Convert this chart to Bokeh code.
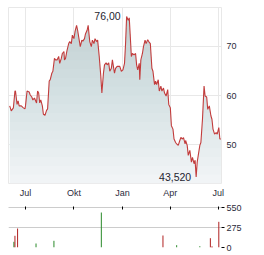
import numpy as np
import pandas as pd
from bokeh.plotting import figure
from bokeh.layouts import column
from bokeh.models import FixedTicker, Label, Range1d
from bokeh.embed import file_html
from bokeh.resources import INLINE

# ---------------- data ----------------
price_dates = [
    "2023-06-01", "2023-06-04", "2023-06-08", "2023-06-11", "2023-06-12", "2023-06-15",
    "2023-06-17", "2023-06-19", "2023-06-23", "2023-06-27", "2023-06-30",
    "2023-07-01", "2023-07-04", "2023-07-08", "2023-07-10", "2023-07-13", "2023-07-15",
    "2023-07-18", "2023-07-22", "2023-07-24", "2023-07-26", "2023-07-28", "2023-07-30",
    "2023-08-02", "2023-08-04", "2023-08-07", "2023-08-10", "2023-08-12", "2023-08-15",
    "2023-08-17", "2023-08-20", "2023-08-22", "2023-08-25", "2023-08-27", "2023-08-30",
    "2023-09-02", "2023-09-04", "2023-09-07", "2023-09-09", "2023-09-12", "2023-09-13",
    "2023-09-15", "2023-09-18", "2023-09-21", "2023-09-23", "2023-09-26", "2023-09-28",
    "2023-10-01", "2023-10-03", "2023-10-06", "2023-10-08", "2023-10-11", "2023-10-13",
    "2023-10-16", "2023-10-18", "2023-10-21", "2023-10-23", "2023-10-26", "2023-10-28", "2023-10-31",
    "2023-11-03", "2023-11-05", "2023-11-08", "2023-11-10", "2023-11-13", "2023-11-15",
    "2023-11-18", "2023-11-21", "2023-11-23", "2023-11-26", "2023-11-28",
    "2023-12-01", "2023-12-03", "2023-12-06", "2023-12-08", "2023-12-11", "2023-12-13",
    "2023-12-17", "2023-12-19", "2023-12-22", "2023-12-27", "2023-12-30",
    "2024-01-02", "2024-01-05", "2024-01-07", "2024-01-09", "2024-01-12", "2024-01-14",
    "2024-01-16", "2024-01-18", "2024-01-20", "2024-01-23", "2024-01-26", "2024-01-28", "2024-01-30",
    "2024-02-02", "2024-02-03", "2024-02-05", "2024-02-08", "2024-02-10", "2024-02-13",
    "2024-02-15", "2024-02-18", "2024-02-20", "2024-02-23", "2024-02-26", "2024-02-28",
    "2024-03-02", "2024-03-04", "2024-03-06", "2024-03-09", "2024-03-11", "2024-03-14",
    "2024-03-16", "2024-03-19", "2024-03-21", "2024-03-24", "2024-03-27", "2024-03-29",
    "2024-04-01", "2024-04-03", "2024-04-06", "2024-04-08", "2024-04-11", "2024-04-13",
    "2024-04-16", "2024-04-19", "2024-04-21", "2024-04-24", "2024-04-26", "2024-04-29", "2024-04-30",
    "2024-05-03", "2024-05-05", "2024-05-08", "2024-05-11", "2024-05-13", "2024-05-16",
    "2024-05-18", "2024-05-20", "2024-05-22", "2024-05-24", "2024-05-27", "2024-05-29",
    "2024-06-01", "2024-06-04", "2024-06-06", "2024-06-09", "2024-06-11", "2024-06-14",
    "2024-06-17", "2024-06-19", "2024-06-21", "2024-06-24", "2024-06-27", "2024-06-29",
    "2024-07-02", "2024-07-04", "2024-07-06",
]
price_values = [
    57.9, 56.9, 57.5, 60.9, 60.9, 58.2,
    58.9, 57.9, 57.9, 57.5, 57.3,
    57.9, 60.9, 60.7, 60.1, 59.7, 59.1,
    59.5, 58.5, 60.9, 60.5, 58.5, 59.1,
    57.9, 56.2, 56.0, 57.0, 57.3, 62.9,
    63.2, 64.5, 64.9, 67.5, 67.2, 67.2,
    67.9, 66.5, 67.5, 68.5, 68.9, 67.2,
    67.5, 69.2, 70.5, 70.9, 70.5, 72.2,
    71.5, 72.9, 74.2, 73.2, 71.2, 69.9,
    71.2, 71.0, 71.5, 72.5, 73.2, 74.2, 70.9,
    69.9, 71.2, 70.5, 71.5, 70.9, 71.2,
    67.9, 63.9, 60.5, 64.5, 66.2,
    66.6, 66.2, 66.6, 64.9, 65.5, 67.2,
    64.5, 65.5, 65.9, 65.9, 64.9,
    65.2, 66.5, 70.5, 76.0, 75.2, 75.7,
    71.9, 67.9, 68.5, 68.2, 68.5, 66.2, 65.2,
    66.5, 63.2, 67.2, 68.5, 69.9, 71.2,
    70.5, 71.3, 70.9, 70.5, 65.5, 64.9,
    62.2, 62.9, 62.2, 63.2, 60.9, 61.9,
    60.9, 61.5, 60.5, 59.9, 61.2, 58.2,
    57.5, 53.9, 53.2, 51.2, 50.5, 50.2,
    49.9, 50.9, 51.5, 51.2, 51.5, 50.2, 50.9,
    49.9, 47.9, 48.9, 46.5, 47.5, 46.2,
    46.9, 43.52, 46.5, 47.9, 49.9, 50.5,
    55.2, 61.9, 59.9, 59.7, 57.2, 57.9,
    55.9, 55.2, 53.2, 52.2, 52.5, 52.2,
    53.5, 51.2, 51.2,
]

vol_dates = ["2023-06-09", "2023-06-11", "2023-06-16", "2023-07-21", "2023-08-24", "2023-11-22",
             "2024-03-18", "2024-04-13", "2024-05-27", "2024-06-16", "2024-06-18", "2024-06-20",
             "2024-07-02"]
vol_values = [78, 161, 261, 55, 92, 481, 165, 32, 18, 128, 12, 12, 353]
vol_up = [True, False, False, True, True, True, False, True, True, False, False, False, False]

month_ticks = ["2023-07-01", "2023-10-01", "2024-01-01", "2024-04-01", "2024-07-01"]
month_labels = ["Jul", "Okt", "Jan", "Apr", "Jul"]
price_ticks = [50, 60, 70]
vol_ticks = [0, 275, 550]

x_start = "2023-05-29 18:00"
x_end = "2024-07-07 03:00"
y_min, y_max = 42.2, 77.8
vol_max = 550

# ---------------- helpers ----------------
def ms(s):
    return pd.Timestamp(s).value / 1e6

px = pd.to_datetime(price_dates)
py = np.array(price_values)
tick_ms = [ms(d) for d in month_ticks]

FONT = "Liberation Sans"
TXT = "#2b2b3b"
GRID = "#e8e8e8"

# ---------------- price chart ----------------
p = figure(x_axis_type="datetime", width=264, height=200,
           x_range=Range1d(ms(x_start), ms(x_end)), y_range=Range1d(y_min, y_max),
           y_axis_location="right", output_backend="svg", toolbar_location=None,
           min_border_left=8, min_border_right=43, min_border_top=7, min_border_bottom=15)
p.background_fill_color = "white"
p.border_fill_color = "white"
p.outline_line_color = GRID

# gradient-like fill under the line
p.varea(x=px, y1=y_min, y2=py, fill_color="#f1f4f6")
levels = np.linspace(y_min, y_max, 21)[1:]
for L in levels:
    p.varea(x=px, y1=np.minimum(py, L), y2=py, fill_color="#86a0b6", fill_alpha=0.022)
p.line(px, py, line_color="#c23c3c", line_width=1.1)

p.xaxis.ticker = FixedTicker(ticks=tick_ms)
p.xaxis.major_label_overrides = {t: l for t, l in zip(tick_ms, month_labels)}
p.xaxis.axis_line_color = None
p.xaxis.major_tick_line_color = None
p.xaxis.major_tick_in = 0
p.xaxis.major_tick_out = 0
p.xaxis.minor_tick_line_color = None
p.xaxis.minor_tick_out = 0
p.xaxis.major_label_standoff = 4
p.xaxis.major_label_text_font = FONT
p.xaxis.major_label_text_font_size = "9px"
p.xaxis.major_label_text_color = TXT

p.yaxis.ticker = FixedTicker(ticks=price_ticks)
p.yaxis.axis_line_color = None
p.yaxis.major_tick_line_color = None
p.yaxis.major_tick_in = 0
p.yaxis.major_tick_out = 0
p.yaxis.minor_tick_line_color = None
p.yaxis.minor_tick_out = 0
p.yaxis.major_label_standoff = 5
p.yaxis.major_label_text_font = FONT
p.yaxis.major_label_text_font_size = "9px"
p.yaxis.major_label_text_color = TXT

p.xgrid.ticker = FixedTicker(ticks=tick_ms)
p.xgrid.grid_line_color = GRID
p.ygrid.ticker = FixedTicker(ticks=price_ticks)
p.ygrid.grid_line_color = GRID

imax = int(np.argmax(py))
imin = int(np.argmin(py))
p.add_layout(Label(x=ms(price_dates[imax]), y=py[imax], x_offset=-6,
                   text=f"{py[imax]:.2f}".replace(".", ","), text_align="right",
                   text_baseline="middle", text_font=FONT, text_font_size="10.5px",
                   text_color="#1e1e30"))
p.add_layout(Label(x=ms(price_dates[imin]), y=py[imin], x_offset=-5,
                   text=f"{py[imin]:.3f}".replace(".", ","), text_align="right",
                   text_baseline="middle", text_font=FONT, text_font_size="10.5px",
                   text_color="#1e1e30"))

# ---------------- volume chart ----------------
v = figure(x_axis_type="datetime", width=264, height=55,
           x_range=p.x_range, y_range=Range1d(0, vol_max),
           y_axis_location="right", x_axis_location="above",
           output_backend="svg", toolbar_location=None,
           min_border_left=8, min_border_right=43, min_border_top=7, min_border_bottom=8)
v.outline_line_color = None
v.background_fill_color = "white"
v.border_fill_color = "white"

vx = pd.to_datetime(vol_dates)
vcol = ["#2a8a2a" if u else "#b02020" for u in vol_up]
v.segment(x0=vx, y0=0, x1=vx, y1=vol_values, line_color=vcol, line_width=1)

v.xaxis.ticker = FixedTicker(ticks=tick_ms)
v.xaxis.axis_line_color = "#cccccc"
v.xaxis.major_tick_line_color = "#000000"
v.xaxis.major_tick_in = 2
v.xaxis.major_tick_out = 1
v.xaxis.minor_tick_line_color = None
v.xaxis.minor_tick_out = 0
v.xaxis.major_label_text_font_size = "0px"
v.xaxis.major_label_text_color = None
v.xaxis.major_label_standoff = 0

v.yaxis.ticker = FixedTicker(ticks=vol_ticks)
v.yaxis.axis_line_color = None
v.yaxis.major_tick_line_color = "#000000"
v.yaxis.major_tick_in = 0
v.yaxis.major_tick_out = 3
v.yaxis.minor_tick_line_color = None
v.yaxis.minor_tick_out = 0
v.yaxis.major_label_standoff = 2
v.yaxis.major_label_text_font = FONT
v.yaxis.major_label_text_font_size = "9px"
v.yaxis.major_label_text_color = TXT

v.xgrid.grid_line_color = None
v.ygrid.ticker = FixedTicker(ticks=vol_ticks)
v.ygrid.grid_line_color = "#cccccc"

layout = column(p, v, spacing=0)
open("out.html", "w").write(file_html(layout, INLINE))
